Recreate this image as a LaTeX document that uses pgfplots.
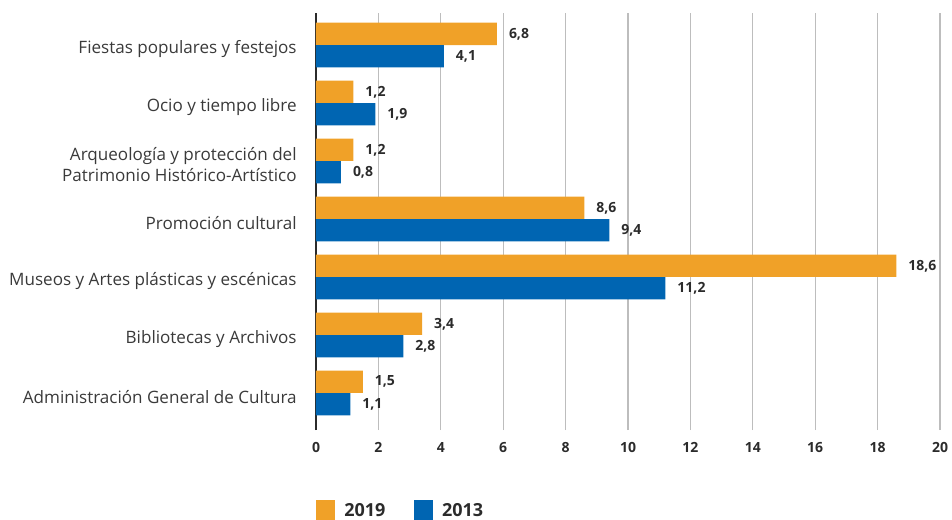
\documentclass[border=0pt]{standalone}
\usepackage{fontspec}
\setmainfont{Open Sans}
\usepackage{pgfplots}
\usepackage{pgfplotstable}
\pgfplotsset{compat=1.18}
\definecolor{corange}{HTML}{F0A128}
\definecolor{cblue}{HTML}{0065B2}
\definecolor{ctext}{HTML}{2B2B2B}
\definecolor{ccat}{HTML}{3A3A3A}
\definecolor{cgrid}{HTML}{BDBDBD}
\pgfplotstableread{
y x label
0 1.5 {1,5}
1 3.4 {3,4}
2 18.6 {18,6}
3 8.6 {8,6}
4 1.2 {1,2}
5 1.2 {1,2}
6 5.8 {6,8}
}\dataA
\pgfplotstableread{
y x label
0 1.1 {1,1}
1 2.8 {2,8}
2 11.2 {11,2}
3 9.4 {9,4}
4 0.8 {0,8}
5 1.9 {1,9}
6 4.1 {4,1}
}\dataB
\begin{document}
\begin{tikzpicture}
\path[use as bounding box] (-237pt,-66.75pt) rectangle (477pt,322.5pt);
\begin{axis}[
  at={(0,0)}, anchor=south west,
  scale only axis, width=468pt, height=312.75pt,
  xmin=0, xmax=20, ymin=-0.638, ymax=6.552,
  xbar, bar width=16.7pt,
  axis line style={draw=none},
  major tick length=0pt,
  xtick={0,2,...,20},
  xmajorgrids, grid style={cgrid, line width=0.9pt},
  extra x ticks={0}, extra x tick labels={},
  extra x tick style={grid style={ctext, line width=0.9pt}},
  /pgf/number format/assume math mode=true,
  xticklabel style={font=\fontsize{10.5pt}{12pt}\selectfont\bfseries, text=ctext, yshift=-6pt},
  ytick={0,...,6},
  yticklabels={Administración General de Cultura, Bibliotecas y Archivos, Museos y Artes plásticas y escénicas, Promoción cultural, {Arqueología y protección del\\Patrimonio Histórico-Artístico}, Ocio y tiempo libre, Fiestas populares y festejos},
  yticklabel style={font=\fontsize{12.8pt}{15.75pt}\selectfont, text=ccat, align=right, xshift=-11pt, yshift=-2.8pt},
  nodes near coords,
  point meta=explicit symbolic,
  every node near coord/.append style={font=\fontsize{10.5pt}{12pt}\selectfont\bfseries, text=ctext, anchor=west, xshift=5.5pt},
  legend columns=2,
  legend style={at={(0,-0.193)}, anchor=west, draw=none, fill=none, inner sep=0pt,
    font=\fontsize{13.5pt}{15pt}\selectfont\bfseries, text=ctext,
    /tikz/every even column/.append style={column sep=19.5pt}},
  legend image code/.code={\fill[#1] (0pt,-7.5pt) rectangle (14.25pt,7.5pt); \path (19pt,0pt);},
]
\addplot[fill=corange, draw=none, bar shift=8.36pt] table[x=x, y=y, meta=label] {\dataA};
\addlegendentry{2019}
\addplot[fill=cblue, draw=none, bar shift=-8.36pt] table[x=x, y=y, meta=label] {\dataB};
\addlegendentry{2013}
\end{axis}
\end{tikzpicture}
\end{document}
